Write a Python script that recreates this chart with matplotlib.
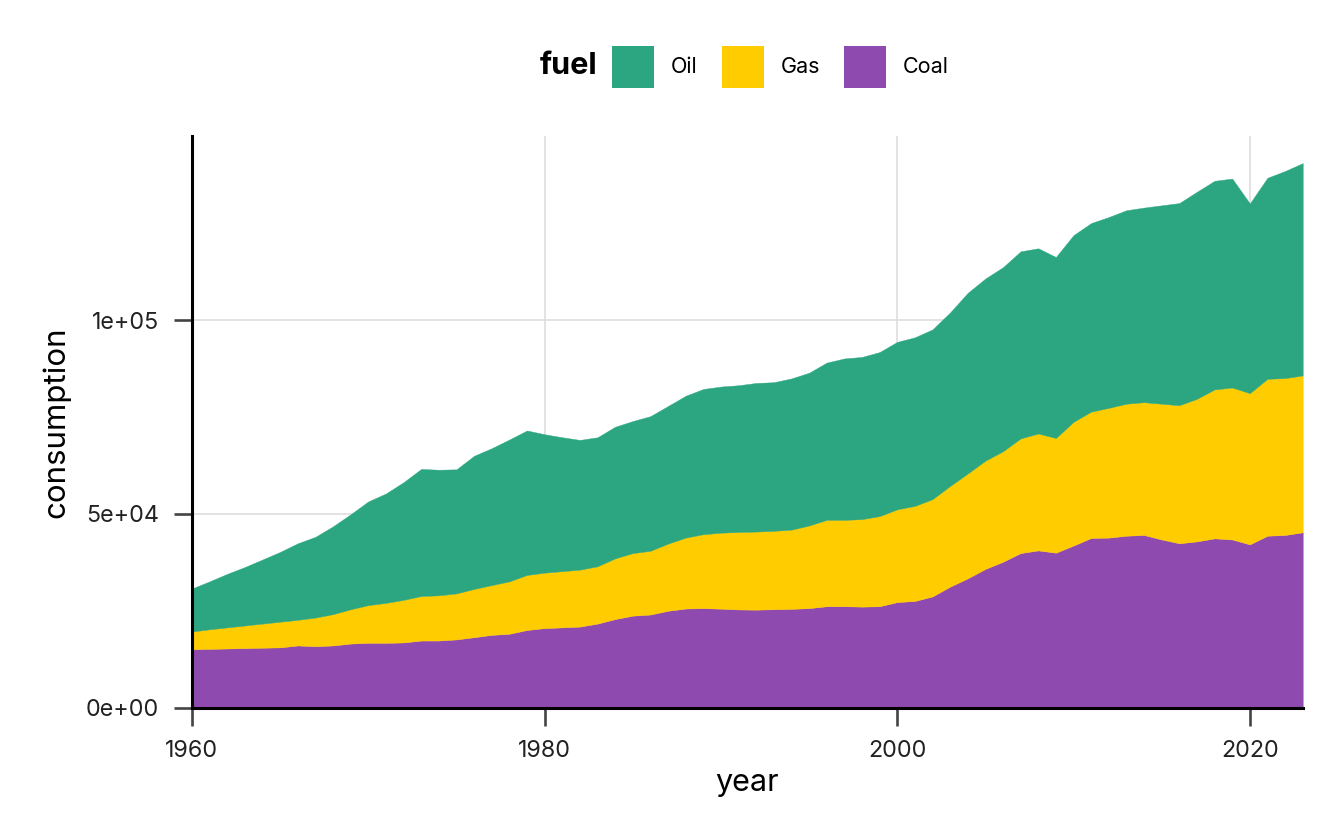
import matplotlib
matplotlib.use("Agg")
import matplotlib.pyplot as plt
from matplotlib.patches import Patch
import numpy as np

plt.rcParams["font.family"] = ["Inter", "DejaVu Sans"]

# values (stacked: coal at the bottom, then gas, then oil)
years = np.arange(1960, 2024)

coal = [15080, 15180, 15270, 15370, 15470, 15560, 16050, 15860, 16050, 16540,
        16730, 16730, 16830, 17320, 17320, 17610, 18190, 18780, 19070, 20040,
        20530, 20720, 20920, 21690, 22860, 23740, 24030, 25000, 25580, 25680,
        25540, 25340, 25290, 25390, 25490, 25680, 26170, 26170, 26070, 26170,
        27240, 27530, 28700, 31230, 33370, 35800, 37650, 39890, 40570, 39980,
        41830, 43780, 43870, 44360, 44550, 43390, 42410, 42900, 43680, 43390,
        42120, 44360, 44550, 45240]

gas = [4570, 5050, 5450, 5840, 6220, 6620, 6620, 7390, 8080, 8850,
       9730, 10310, 10990, 11480, 11670, 11870, 12450, 12840, 13520, 14200,
       14300, 14500, 14690, 14790, 15660, 16140, 16440, 17320, 18290, 19070,
       19600, 19990, 20140, 20230, 20430, 21310, 22280, 22280, 22570, 23250,
       23930, 24520, 25100, 25970, 27040, 27920, 28500, 29570, 30150, 29580,
       31910, 32590, 33470, 34050, 34250, 35020, 35610, 36770, 38420, 39200,
       39010, 40470, 40470, 40460]

oil = [11090, 12360, 13810, 15080, 16540, 18000, 19740, 20820, 22660, 24510,
       26750, 28210, 30350, 32780, 32390, 32000, 34340, 35310, 36580, 37260,
       35700, 34530, 33460, 33270, 33950, 34050, 34730, 35500, 36580, 37450,
       37690, 37840, 38330, 38330, 39010, 39400, 40560, 41630, 41830, 42310,
       43190, 43480, 43770, 44750, 46600, 46980, 47470, 48250, 47770, 46690,
       48150, 48630, 49220, 49900, 50190, 51170, 52140, 53410, 53800, 53890,
       48930, 51850, 53410, 54770]

fuels = ["Oil", "Gas", "Coal"]
colors = {"Oil": "#2ca680", "Gas": "#ffcc00", "Coal": "#8f4ab0"}

W, H = 1344, 830
fig = plt.figure(figsize=(W / 100, H / 100), dpi=100)
fig.patch.set_facecolor("white")

# panel in pixel coords: x 192..1303, y 136..708
ax = fig.add_axes([192 / W, (H - 707.7) / H, (1302.7 - 192) / W, (707.7 - 136) / H])

ax.stackplot(years, coal, gas, oil,
             colors=[colors["Coal"], colors["Gas"], colors["Oil"]],
             edgecolor="face", linewidth=0.3, zorder=2)

ax.set_xlim(1960, 2023)
ax.set_ylim(0, 147460)
ax.set_xticks([1960, 1980, 2000, 2020])
ax.set_yticks([0, 50000, 100000])
ax.set_yticklabels(["0e+00", "5e+04", "1e+05"])

ax.grid(True, color="#dedede", linewidth=1.2, zorder=0)
ax.set_axisbelow(True)

for s in ["top", "right"]:
    ax.spines[s].set_visible(False)
for s in ["left", "bottom"]:
    ax.spines[s].set_color("black")
    ax.spines[s].set_linewidth(2.2)
    ax.spines[s].set_zorder(3)

ax.tick_params(axis="both", length=13, width=1.9, color="#444444",
               labelsize=16.8, labelcolor="#222222", pad=10.5)

ax.set_xlabel("year", fontsize=22, color="black", labelpad=5)
ax.set_ylabel("consumption", fontsize=22.5, color="black", labelpad=11)

# legend across the top, title on its left
handles = [Patch(facecolor=colors[f], edgecolor="none", label=f) for f in fuels]
fig.legend(handles=handles, loc="center left",
           bbox_to_anchor=(612 / W, 1 - 67 / H), ncol=3, frameon=False,
           fontsize=15.5, handlelength=1.95, handleheight=2.65,
           handletextpad=0.8, columnspacing=1.1,
           borderpad=0, borderaxespad=0)
fig.text(597 / W, 1 - 66 / H, "fuel", ha="right", va="center",
         fontsize=22, fontweight="bold", color="black")

fig.savefig("out.png", dpi=100, facecolor="white")
